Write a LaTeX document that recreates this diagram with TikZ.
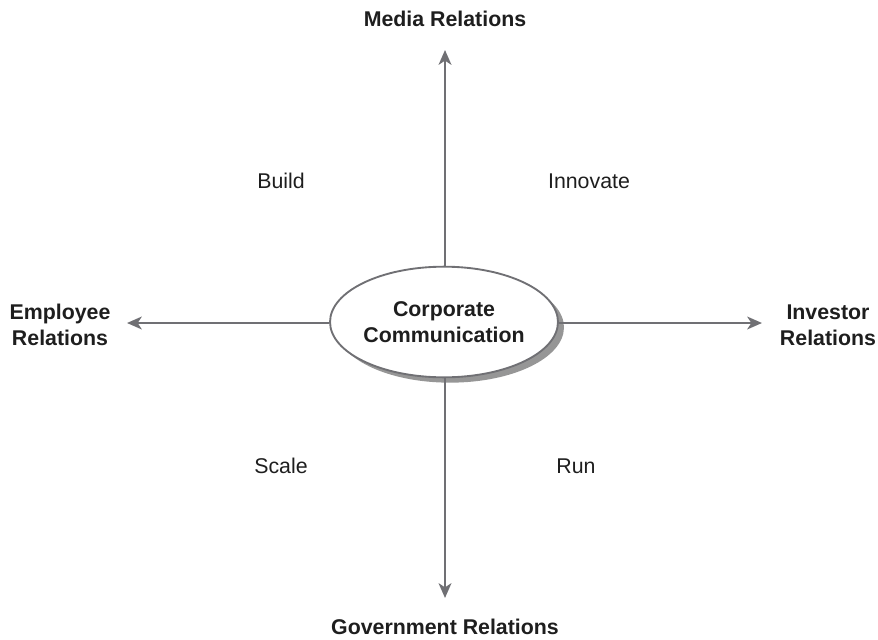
\documentclass[tikz,border=0pt]{standalone}
\usepackage{fontspec}
\setmainfont{Liberation Sans}
\usetikzlibrary{arrows.meta,shapes.geometric,shadows}

\definecolor{axisgray}{RGB}{112,112,116}
\definecolor{shadegray}{RGB}{150,150,150}
\definecolor{inkgray}{RGB}{30,30,30}

\tikzset{every picture/.style={line width=0.75pt}}
\tikzset{
  axis/.style={draw=axisgray,line width=2pt,-{Stealth[length=11pt,width=9.5pt,inset=3pt]}},
  hub/.style={ellipse,draw=axisgray,line width=1.4pt,fill=white,minimum width=155pt,minimum height=83pt,inner sep=0pt,
    drop shadow={shadow xshift=4.5pt,shadow yshift=-4pt,fill=shadegray,opacity=1},
    align=center,font=\fontsize{16}{20}\selectfont\bfseries,text=inkgray},
  relation/.style={inner sep=0.75pt,align=center,font=\fontsize{16}{19.5}\selectfont\bfseries,text=inkgray},
  quadrant/.style={inner sep=0.75pt,font=\fontsize{16}{19.5}\selectfont,text=inkgray}
}

\begin{document}
\begin{tikzpicture}[x=0.75pt,y=0.75pt,yscale=-1,xscale=1]
\useasboundingbox (0,0) rectangle (878,639);

%Shape: Ellipse [id:hub]
\node [hub] (corp) at (444,322) {Corporate\\Communication};

%Arrow tips
\coordinate (mediatip) at (445,50);
\coordinate (govtip) at (445,598);
\coordinate (emptip) at (127,323);
\coordinate (invtip) at (762,323);

%Straight Lines [id:up]
\draw [axis] (corp.north -| mediatip) -- (mediatip);
%Straight Lines [id:down]
\draw [axis] (corp.south -| govtip) -- (govtip);
%Straight Lines [id:left]
\draw [axis] (corp.west |- emptip) -- (emptip);
%Straight Lines [id:right]
\draw [axis] (corp.east |- invtip) -- (invtip);

% Text Node
\node [relation] (media) at (445,19) {Media Relations};
% Text Node
\node [relation] (gov) at (445,627) {Government Relations};
% Text Node
\node [relation] (emp) at (60,325) {Employee\\Relations};
% Text Node
\node [relation] (inv) at (828,325) {Investor\\Relations};

% Text Node
\node [quadrant] (build) at (281,181) {Build};
% Text Node
\node [quadrant] (innovate) at (589,181) {Innovate};
% Text Node
\node [quadrant] (scale) at (281,466) {Scale};
% Text Node
\node [quadrant] (run) at (576,466) {Run};

\end{tikzpicture}
\end{document}
